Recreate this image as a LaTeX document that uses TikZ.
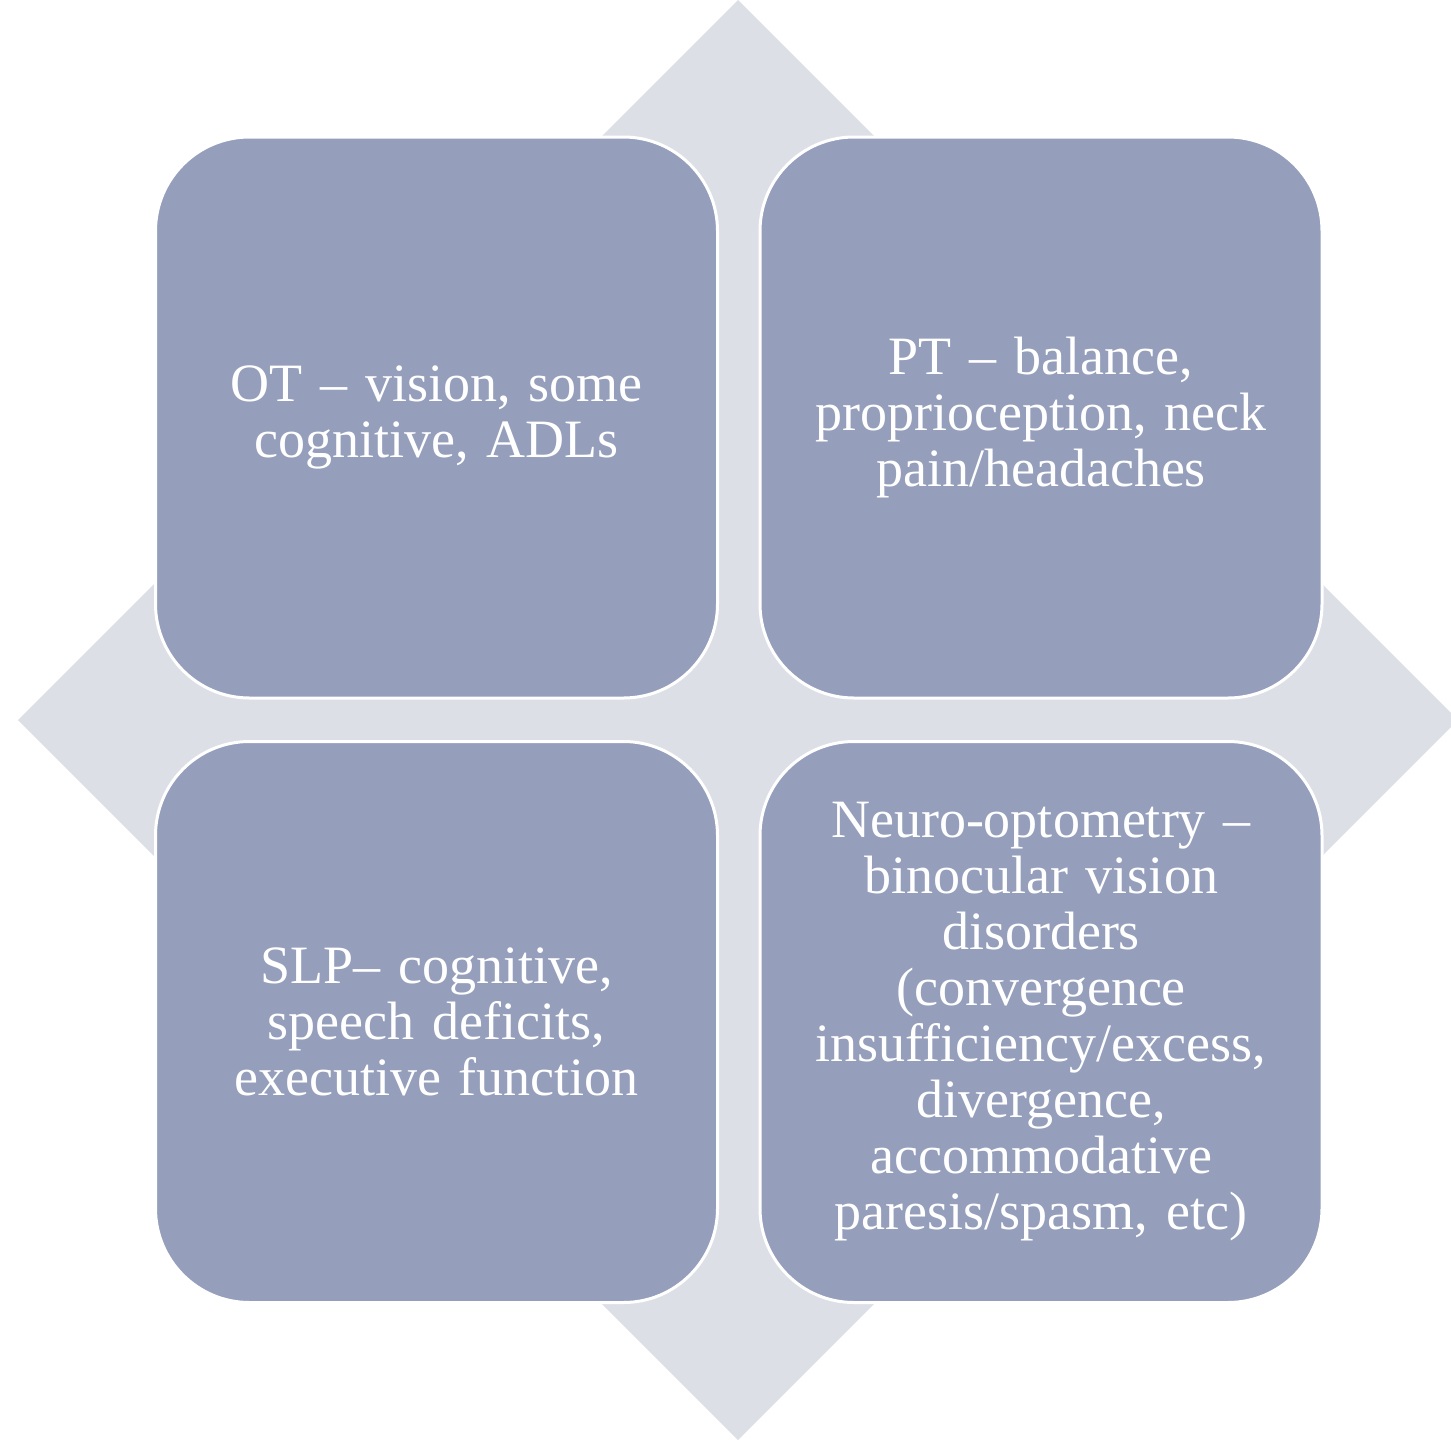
\documentclass[tikz,border=0pt]{standalone}
\usepackage{fontspec}
\setmainfont{Liberation Serif}
\definecolor{diamondgrey}{RGB}{220,223,230}
\definecolor{tilefill}{RGB}{149,159,187}
\tikzset{
  tile/.style={draw=white, line width=1.5pt, fill=tilefill, rounded corners=47pt,
    minimum width=281pt, minimum height=280.5pt, inner sep=0pt,
    text=white, text width=262pt, align=center,
    font=\fontsize{27}{28}\selectfont}
}
\begin{document}
\begin{tikzpicture}[x=0.5pt,y=0.5pt,yscale=-1,xscale=1]
\useasboundingbox (0,0) rectangle (1451,1440);

%Shape: Diamond behind the tiles
\fill [diamondgrey] (738,0) -- (1458,720) -- (738,1440) -- (18,720) -- cycle ;

% Tiles
\node [tile] (ot) at (436.5,417.5) {OT -- vision, some\\cognitive, ADLs};
\node [tile] (pt) at (1041,417.5) {PT -- balance,\\proprioception, neck\\pain/headaches};
\node [tile] (slp) at (436.5,1022) {SLP-- cognitive,\\speech deficits,\\executive function};
\node [tile] (neuro) at (1041,1022) {Neuro-optometry --\\binocular vision\\disorders\\(convergence\\insufficiency/excess,\\divergence,\\accommodative\\paresis/spasm, etc)};

\end{tikzpicture}
\end{document}
